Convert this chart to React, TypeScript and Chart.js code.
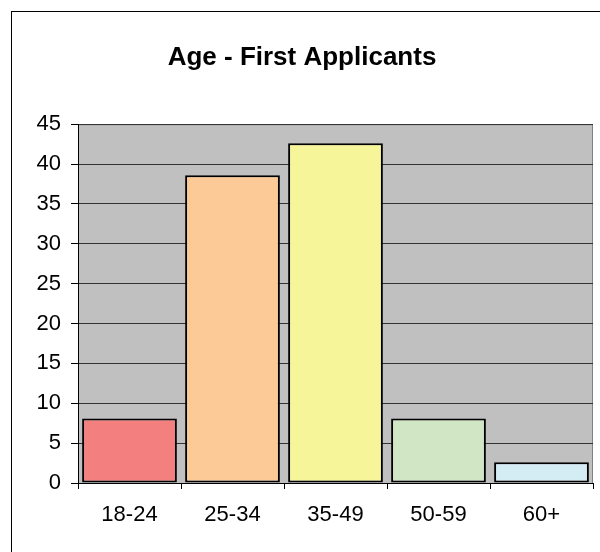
import React, { useEffect, useRef } from "react";
import { Chart, registerables } from "chart.js";

Chart.register(...registerables);

const TITLE = "Age - First Applicants";
const categories = ["18-24", "25-34", "35-49", "50-59", "60+"];
const values = [8.1, 38.6, 42.6, 8.1, 2.6];
const barColors = ["#F47F7F", "#FCCA96", "#F7F59A", "#D0E6C5", "#D4ECF4"];
const yMin = 0;
const yMax = 45;
const yStep = 5;

const FONT = "'Liberation Sans', Arial, Helvetica, sans-serif";

const decorPlugin = {
  id: "decor",
  beforeDraw(chart: any) {
    const { ctx, chartArea } = chart;
    ctx.save();
    ctx.fillStyle = "#ffffff";
    ctx.fillRect(0, 0, chart.width, chart.height);
    ctx.strokeStyle = "#000000";
    ctx.lineWidth = 1;
    ctx.strokeRect(11.5, 11.5, 800, 800);
    ctx.fillStyle = "#C0C0C0";
    ctx.fillRect(chartArea.left, chartArea.top, chartArea.right - chartArea.left, chartArea.bottom - chartArea.top);
    ctx.strokeStyle = "#808080";
    ctx.strokeRect(chartArea.left + 0.5, chartArea.top + 0.5, chartArea.right - chartArea.left - 1, chartArea.bottom - chartArea.top);
    ctx.restore();
  },
};

export default function App() {
  const ref = useRef<HTMLCanvasElement | null>(null);
  useEffect(() => {
    if (!ref.current) return;
    const chart = new Chart(ref.current, {
      type: "bar",
      data: {
        labels: categories,
        datasets: [
          {
            data: values,
            backgroundColor: barColors,
            borderColor: "#000000",
            borderWidth: 2,
            borderSkipped: false,
            barPercentage: 0.92,
            categoryPercentage: 1,
          },
        ],
      },
      options: {
        animation: false,
        responsive: false,
        maintainAspectRatio: false,
        layout: { padding: { top: 12, left: 11, right: 7, bottom: 0 } },
        plugins: {
          legend: { display: false },
          tooltip: { enabled: false },
          title: {
            display: true,
            text: TITLE,
            color: "#000000",
            font: { family: FONT, size: 26, weight: "bold", lineHeight: 1.2 },
            padding: { top: 30, bottom: 51 },
          },
        },
        scales: {
          x: {
            offset: true,
            grid: {
              display: true,
              offset: true,
              drawOnChartArea: false,
              drawTicks: true,
              tickLength: 6,
              color: "#000000",
            },
            border: { display: true, color: "#000000", width: 1 },
            ticks: {
              color: "#000000",
              font: { family: FONT, size: 22, lineHeight: 1.2 },
              padding: 13,
              maxRotation: 0,
            },
            afterFit: (scale: any) => {
              scale.height = 69;
            },
          },
          y: {
            min: yMin,
            max: yMax,
            grid: {
              color: "#333333",
              lineWidth: 1,
              drawTicks: true,
              tickLength: 7,
              tickColor: "#000000",
            },
            border: { display: true, color: "#000000", width: 1 },
            ticks: {
              stepSize: yStep,
              color: "#000000",
              font: { family: FONT, size: 22 },
              padding: 10,
            },
            afterFit: (scale: any) => {
              scale.width = 67;
            },
          },
        },
      },
      plugins: [decorPlugin],
    });
    return () => chart.destroy();
  }, []);
  return (
    <div style={{ position: "fixed", left: 0, top: 0, width: 600, height: 552, background: "#fff" }}>
      <canvas ref={ref} width={600} height={552} style={{ display: "block" }} />
    </div>
  );
}
